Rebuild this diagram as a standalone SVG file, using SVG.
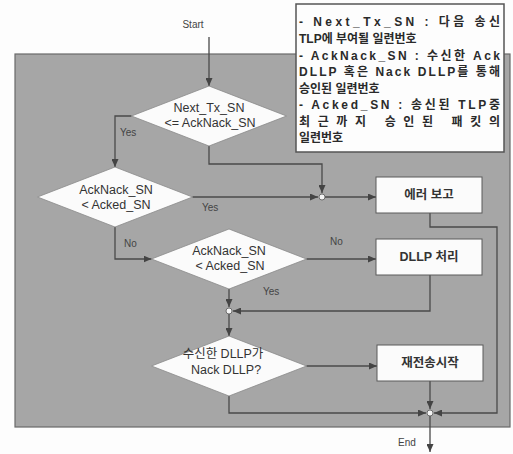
<svg xmlns="http://www.w3.org/2000/svg" width="513" height="454" viewBox="0 0 513 454">
<style>
text{font-family:"Liberation Sans","Noto Sans CJK KR",sans-serif;fill:#333}
.dt{font-size:12.5px;text-anchor:middle}
.bt{font-size:12.5px;font-weight:bold;text-anchor:middle}
.lb{font-size:10px;fill:#444}
.nt{font-size:12px;font-weight:bold;fill:#2a2a2a}
.dia{fill:#fbfbfb;stroke:#8a8a8a;stroke-width:0.8}
.box{fill:#fbfbfb;stroke:#5a5a5a;stroke-width:1}
.ln{fill:none;stroke:#4a4a4a;stroke-width:1.3}
.arr{marker-end:url(#ah)}
.jn{fill:#f4f4f4;stroke:#555;stroke-width:0.8}
</style>
<defs>
<marker id="ah" markerUnits="userSpaceOnUse" markerWidth="8" markerHeight="7" refX="8" refY="3.5" orient="auto">
<path d="M0,0 L8,3.5 L0,7 z" fill="#444"/>
</marker>
</defs>
<rect width="513" height="454" fill="#fdfdfd"/>
<rect x="15" y="54" width="495" height="373" fill="#a6a6a6" stroke="#6a6a6a" stroke-width="1.2"/>

<g id="connectors">
<path class="ln arr" d="M209,37 V86"/>
<path class="ln arr" d="M131.5,116 H115 V167"/>
<path class="ln arr" d="M209,146 V164 H322 V193"/>
<path class="ln arr" d="M192.5,197 H318"/>
<path class="ln arr" d="M325,197 H376"/>
<path class="ln arr" d="M430,213 V227 H497 V413 H434"/>
<path class="ln arr" d="M115,227 V259 H151.5"/>
<path class="ln arr" d="M306.5,259 H376"/>
<path class="ln arr" d="M229,289 V307"/>
<path class="ln arr" d="M430,275 V311 H233"/>
<path class="ln arr" d="M229,314 V336"/>
<path class="ln arr" d="M306.5,366 H377"/>
<path class="ln arr" d="M430,381 V409"/>
<path class="ln arr" d="M229,396 V413 H426"/>
<path class="ln arr" d="M430,416 V452"/>
<circle class="jn" cx="322" cy="197" r="3"/>
<circle class="jn" cx="229" cy="311" r="3"/>
<circle class="jn" cx="430" cy="413" r="3"/>
<text class="lb" x="120" y="136">Yes</text>
<text class="lb" x="202" y="211">Yes</text>
<text class="lb" x="124" y="247">No</text>
<text class="lb" x="330" y="245">No</text>
<text class="lb" x="263" y="295">Yes</text>
</g>

<g id="start"><text x="193" y="28" style="font-size:10px;text-anchor:middle;fill:#444">Start</text></g>
<g id="end"><text x="407" y="446" style="font-size:10px;text-anchor:middle;fill:#444">End</text></g>

<g id="d1">
<polygon class="dia" points="209,86 286.5,116 209,146 131.5,116"/>
<text class="dt" x="209" y="112">Next_Tx_SN</text>
<text class="dt" x="210" y="127">&lt;= AckNack_SN</text>
</g>
<g id="d2">
<polygon class="dia" points="115,167 192.5,197 115,227 37.5,197"/>
<text class="dt" x="116" y="194">AckNack_SN</text>
<text class="dt" x="116" y="209">&lt; Acked_SN</text>
</g>
<g id="d3">
<polygon class="dia" points="229,229 306.5,259 229,289 151.5,259"/>
<text class="dt" x="229" y="255">AckNack_SN</text>
<text class="dt" x="230" y="270">&lt; Acked_SN</text>
</g>
<g id="d4">
<polygon class="dia" points="229,336 306.5,366 229,396 151.5,366"/>
<text class="dt" x="223" y="358">수신한 DLLP가</text>
<text class="dt" x="226" y="374">Nack DLLP?</text>
</g>

<g id="b1">
<rect class="box" x="376" y="177" width="106" height="36"/>
<text class="bt" x="429" y="199">에러 보고</text>
</g>
<g id="b2">
<rect class="box" x="376" y="239" width="106" height="36"/>
<text class="bt" x="429" y="261">DLLP 처리</text>
</g>
<g id="b3">
<rect class="box" x="377" y="345" width="106" height="36"/>
<text class="bt" x="430" y="367">재전송시작</text>
</g>

<g id="note">
<rect x="296" y="4" width="208" height="148" fill="#fdfdfd" stroke="#555" stroke-width="1.5"/>
<text class="nt" x="299" y="26" textLength="201" lengthAdjust="spacing">- Next_Tx_SN : 다음 송신</text>
<text class="nt" x="299" y="43">TLP에 부여될 일련번호</text>
<text class="nt" x="299" y="60" textLength="201" lengthAdjust="spacing">- AckNack_SN : 수신한 Ack</text>
<text class="nt" x="299" y="76" textLength="201" lengthAdjust="spacing">DLLP 혹은 Nack DLLP를 통해</text>
<text class="nt" x="299" y="93">승인된 일련번호</text>
<text class="nt" x="299" y="109" textLength="201" lengthAdjust="spacing">- Acked_SN : 송신된 TLP중</text>
<text class="nt" x="299" y="126" textLength="201" lengthAdjust="spacing">최근까지 승인된 패킷의</text>
<text class="nt" x="299" y="142">일련번호</text>
</g>
</svg>
